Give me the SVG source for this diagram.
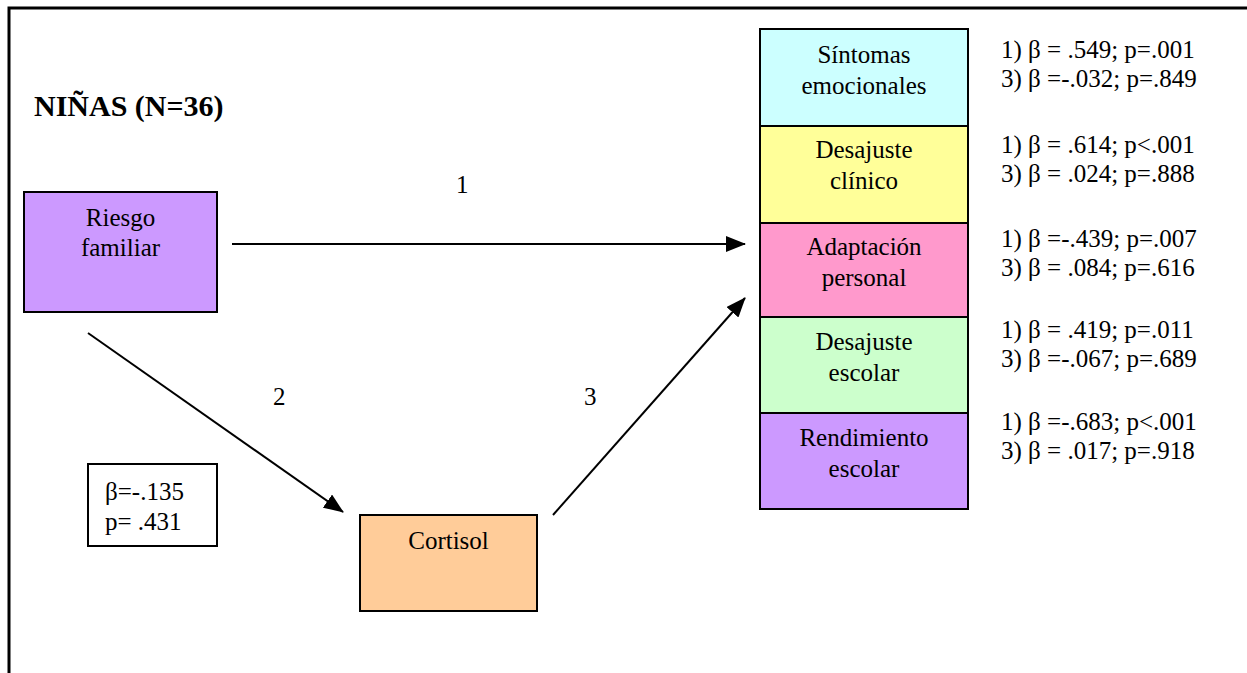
<svg xmlns="http://www.w3.org/2000/svg" width="1247" height="673" viewBox="0 0 1247 673">
  <style>
    text { font-family: "Liberation Serif", "Times New Roman", "DejaVu Serif", serif; font-size: 25px; fill: #000; }
    .c { text-anchor: middle; }
    .title { font-weight: bold; font-size: 30px; }
    .box { stroke: #000; stroke-width: 2; }
    .conn line { stroke: #000; stroke-width: 2; marker-end: url(#arrow); }
  </style>
  <defs>
    <marker id="arrow" markerUnits="userSpaceOnUse" markerWidth="20" markerHeight="16" refX="19" refY="8" orient="auto">
      <path d="M0,0 L20,8 L0,16 Z" fill="#000"/>
    </marker>
  </defs>
  <rect width="1247" height="673" fill="#fff"/>
  <!-- outer frame: top and left edges only -->
  <path d="M9,673 L9,8 L1247,8" fill="none" stroke="#000" stroke-width="3"/>

  <text class="title" x="34" y="116">NIÑAS (N=36)</text>

  <g id="riesgo">
    <rect class="box" x="24" y="192" width="193" height="120" fill="#CC99FF"/>
    <text class="c" x="120.5" y="226">Riesgo</text>
    <text class="c" x="120.5" y="256">familiar</text>
  </g>

  <g id="beta-box">
    <rect class="box" x="88" y="464" width="129" height="82" fill="#fff"/>
    <text x="105" y="500">β=-.135</text>
    <text x="105" y="530">p= .431</text>
  </g>

  <g id="cortisol">
    <rect class="box" x="360" y="515" width="177" height="96" fill="#FFCC99"/>
    <text class="c" x="448.5" y="549">Cortisol</text>
  </g>

  <g id="sintomas">
    <rect class="box" x="760" y="29" width="208" height="97" fill="#CCFFFF"/>
    <text class="c" x="864" y="63">Síntomas</text>
    <text class="c" x="864" y="94">emocionales</text>
  </g>
  <g id="desajuste-clinico">
    <rect class="box" x="760" y="126" width="208" height="97" fill="#FFFF99"/>
    <text class="c" x="864" y="158">Desajuste</text>
    <text class="c" x="864" y="189">clínico</text>
  </g>
  <g id="adaptacion">
    <rect class="box" x="760" y="223" width="208" height="94" fill="#FF99CC"/>
    <text class="c" x="864" y="255">Adaptación</text>
    <text class="c" x="864" y="286">personal</text>
  </g>
  <g id="desajuste-escolar">
    <rect class="box" x="760" y="317" width="208" height="96" fill="#CCFFCC"/>
    <text class="c" x="864" y="350">Desajuste</text>
    <text class="c" x="864" y="381">escolar</text>
  </g>
  <g id="rendimiento">
    <rect class="box" x="760" y="413" width="208" height="96" fill="#CC99FF"/>
    <text class="c" x="864" y="446">Rendimiento</text>
    <text class="c" x="864" y="477">escolar</text>
  </g>

  <g id="stats">
    <text x="1001" y="58">1) β = .549; p=.001</text>
    <text x="1001" y="87">3) β =-.032; p=.849</text>
    <text x="1001" y="153">1) β = .614; p&lt;.001</text>
    <text x="1001" y="182">3) β = .024; p=.888</text>
    <text x="1001" y="247">1) β =-.439; p=.007</text>
    <text x="1001" y="276">3) β = .084; p=.616</text>
    <text x="1001" y="338">1) β = .419; p=.011</text>
    <text x="1001" y="367">3) β =-.067; p=.689</text>
    <text x="1001" y="430">1) β =-.683; p&lt;.001</text>
    <text x="1001" y="459">3) β = .017; p=.918</text>
  </g>

  <g id="connectors" class="conn">
    <line x1="232" y1="244" x2="745" y2="244"/>
    <line x1="88" y1="333" x2="343" y2="512"/>
    <line x1="553" y1="515" x2="745" y2="298"/>
  </g>
  <g id="path-labels">
    <text x="456" y="193">1</text>
    <text x="273" y="405">2</text>
    <text x="584" y="405">3</text>
  </g>
</svg>
